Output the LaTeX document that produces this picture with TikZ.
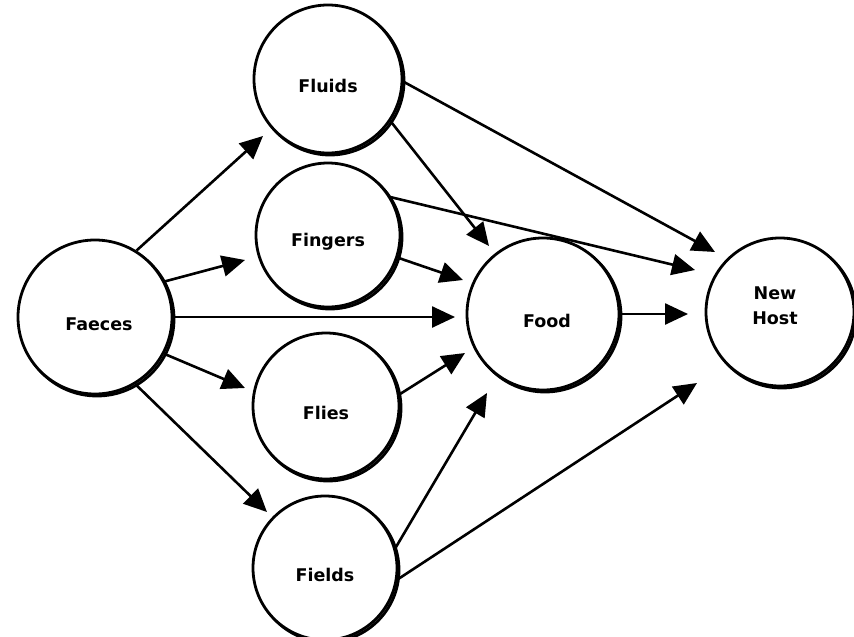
\documentclass[tikz,border=0pt]{standalone}
\usepackage{fontspec}
\setmainfont{DejaVu Sans}
\usetikzlibrary{arrows.meta}
\newcommand\lowtext[1]{\raisebox{-7pt}[\height][\depth]{#1}}
\begin{document}
\begin{tikzpicture}[x=1pt,y=-1pt,
  circ/.style={circle, draw, line width=2.8pt, fill=white, inner sep=0pt,
    font=\bfseries\fontsize{17.5}{24}\selectfont, align=center,
    preaction={draw, line width=2.8pt, transform canvas={shift={(2pt,-2pt)}}}},
  arr/.style={line width=2.6pt, -{Triangle[length=23pt,width=21pt]}}]
\useasboundingbox (0,0) rectangle (854,637);
\node[circ, minimum size=154pt] (faeces) at (95,317) {\lowtext{\hspace*{8pt}Faeces}};
\node[circ, minimum size=148pt] (fluids) at (328,79) {\lowtext{Fluids}};
\node[circ, minimum size=144pt] (fingers) at (328,235) {\lowtext{Fingers}};
\node[circ, minimum size=146pt] (flies) at (326,406) {\lowtext{Flies}};
\node[circ, minimum size=144pt] (fields) at (325,568) {\lowtext{Fields}};
\node[circ, minimum size=152pt] (food) at (543,314) {\lowtext{\hspace*{8pt}Food}};
\node[circ, minimum size=148pt] (host) at (780,312) {\raisebox{5pt}[\height][\depth]{\begin{tabular}{@{}c@{}}New\\[1pt]Host\end{tabular}}\hspace*{10pt}};
\coordinate (tA) at (263,136);
\coordinate (tB) at (245,260);
\coordinate (tC) at (455,317);
\coordinate (tD) at (245,388);
\coordinate (tE) at (267,512);
\coordinate (tF) at (489,246);
\coordinate (tG) at (715,252);
\coordinate (tH) at (695,270);
\coordinate (tI) at (463,280);
\coordinate (tJ) at (465,353);
\coordinate (tK) at (487,393);
\coordinate (tL) at (697,383);
\coordinate (tM) at (688,314);
\draw[arr] (faeces.58) -- (tA);
\draw[arr] (faeces.27) -- (tB);
\draw[arr] (faeces.0) -- (tC);
\draw[arr] (faeces.-28) -- (tD);
\draw[arr] (faeces.-59) -- (tE);
\draw[arr] (fluids.-34) -- (tF);
\draw[arr] (fluids.-2) -- (tG);
\draw[arr] (fingers.31) -- (tH);
\draw[arr] (fingers.-18) -- (tI);
\draw[arr] (flies.9) -- (tJ);
\draw[arr] (fields.16) -- (tK);
\draw[arr] (fields.-9) -- (tL);
\draw[arr] (food.0) -- (tM);
\end{tikzpicture}
\end{document}
